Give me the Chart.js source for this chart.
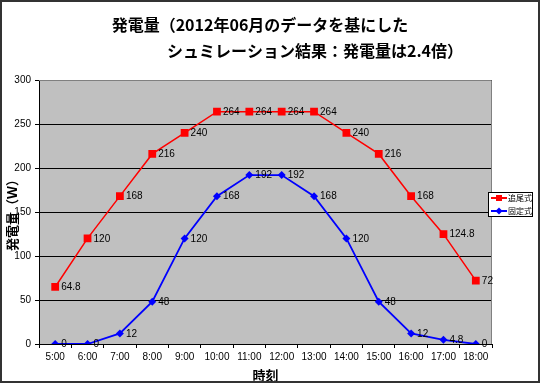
<!DOCTYPE html>
<html><head><meta charset="utf-8">
<script src="https://cdn.jsdelivr.net/npm/chart.js@4/dist/chart.umd.min.js"></script>
<style>html,body{margin:0;padding:0;background:#fff}#w{width:540px;height:383px;position:relative}</style>
</head><body><div id="w"><canvas id="c"></canvas></div>
<script>
const categories = ['5:00','6:00','7:00','8:00','9:00','10:00','11:00','12:00','13:00','14:00','15:00','16:00','17:00','18:00'];
const trackingValues = [64.8,120,168,216,240,264,264,264,264,240,216,168,124.8,72];
const fixedValues = [0,0,12,48,120,168,192,192,168,120,48,12,4.8,0];
const seriesNames = ['追尾式','固定式'];
const yTickValues = [0,50,100,150,200,250,300];
const titleLines = ['発電量（2012年06月のデータを基にした','シュミレーション結果：発電量は2.4倍）'];
const xTitle = '時刻';
const yTitle = '発電量（Ｗ）';

const NARROW = "'Liberation Sans Narrow','Arial Narrow','Liberation Sans',sans-serif";
const JP = "'Noto Sans CJK JP',sans-serif";

const deco = {
  id: 'deco',
  beforeDraw(chart) {
    const {ctx, chartArea: a} = chart;
    ctx.save();
    ctx.fillStyle = '#fff';
    ctx.fillRect(0, 0, chart.width, chart.height);
    ctx.fillStyle = '#c0c0c0';
    ctx.fillRect(a.left, a.top, a.right - a.left, a.bottom - a.top);
    ctx.restore();
  },
  beforeDatasetsDraw(chart) {
    const {ctx, chartArea: a} = chart;
    ctx.save();
    ctx.strokeStyle = '#808080';
    ctx.lineWidth = 1;
    ctx.beginPath();
    ctx.moveTo(a.left, a.top + 0.5);
    ctx.lineTo(a.right - 0.5, a.top + 0.5);
    ctx.lineTo(a.right - 0.5, a.bottom);
    ctx.stroke();
    ctx.restore();
  },
  afterDatasetsDraw(chart) {
    const {ctx} = chart;
    ctx.save();
    ctx.font = '10px ' + NARROW;
    ctx.fillStyle = '#000';
    ctx.textAlign = 'left';
    ctx.textBaseline = 'middle';
    chart.data.datasets.forEach((ds, i) => {
      const meta = chart.getDatasetMeta(i);
      meta.data.forEach((pt, j) => {
        ctx.fillText(String(ds.data[j]), pt.x + 6, pt.y + 0.5);
      });
    });
    ctx.restore();
  },
  afterDraw(chart) {
    const {ctx} = chart;
    ctx.save();
    // title
    ctx.fillStyle = '#000';
    ctx.font = 'bold 16px ' + JP;
    ctx.textAlign = 'center';
    ctx.textBaseline = 'middle';
    ctx.fillText(titleLines[0], 260, 25);
    ctx.fillText(titleLines[1], 315, 51);
    // legend
    const lx = 488, ly = 192, lw = 44, lh = 24;
    ctx.fillStyle = '#fff';
    ctx.fillRect(lx, ly, lw, lh);
    ctx.strokeStyle = '#000';
    ctx.lineWidth = 1;
    ctx.strokeRect(lx + 0.5, ly + 0.5, lw, lh);
    chart.data.datasets.forEach((ds, i) => {
      const y = ly + 6 + i * 13;
      ctx.strokeStyle = ds.borderColor;
      ctx.lineWidth = 2;
      ctx.beginPath();
      ctx.moveTo(lx + 3, y);
      ctx.lineTo(lx + 19, y);
      ctx.stroke();
      ctx.fillStyle = ds.borderColor;
      if (i === 0) {
        ctx.fillRect(lx + 8, y - 3, 6, 6);
      } else {
        ctx.beginPath();
        ctx.moveTo(lx + 11, y - 3.5);
        ctx.lineTo(lx + 14.5, y);
        ctx.lineTo(lx + 11, y + 3.5);
        ctx.lineTo(lx + 7.5, y);
        ctx.closePath();
        ctx.fill();
      }
      ctx.fillStyle = '#000';
      ctx.font = '8px ' + JP;
      ctx.textAlign = 'left';
      ctx.fillText(ds.label, lx + 20, y);
    });
    // outer border
    ctx.strokeStyle = '#333';
    ctx.lineWidth = 2;
    ctx.strokeRect(1, 1, chart.width - 2, chart.height - 2);
    ctx.restore();
  }
};

new Chart(document.getElementById('c'), {
  type: 'line',
  data: {
    labels: categories,
    datasets: [
      {
        label: seriesNames[0], data: trackingValues,
        borderColor: '#ff0000', backgroundColor: '#ff0000',
        borderWidth: 1.5, pointStyle: 'rect', pointRadius: 5.5,
        pointBorderWidth: 0, pointBackgroundColor: '#ff0000', tension: 0
      },
      {
        label: seriesNames[1], data: fixedValues,
        borderColor: '#0000ff', backgroundColor: '#0000ff',
        borderWidth: 1.8, pointStyle: 'rectRot', pointRadius: 4,
        pointBorderWidth: 0, pointBackgroundColor: '#0000ff', tension: 0
      }
    ]
  },
  options: {
    responsive: true, maintainAspectRatio: false, animation: false,
    devicePixelRatio: 1,
    layout: {padding: {top: 80, right: 48, left: 0, bottom: 0}},
    plugins: {legend: {display: false}, title: {display: false}, tooltip: {enabled: false}},
    scales: {
      x: {
        offset: true,
        grid: {offset: true, drawOnChartArea: false, drawTicks: true, tickLength: 4, color: '#000'},
        border: {color: '#000', width: 1},
        ticks: {font: {family: NARROW, size: 10}, color: '#000', padding: 3, maxRotation: 0, autoSkip: false},
        title: {display: true, text: xTitle, font: {family: JP, size: 13, weight: 'bold'}, color: '#000', padding: {top: 0, bottom: 0}},
        afterFit(s) { s.height = 39; }
      },
      y: {
        min: 0, max: 300,
        afterBuildTicks(s) { s.ticks = yTickValues.map(v => ({value: v})); },
        grid: {color: '#000', tickLength: 4},
        border: {color: '#000', width: 1},
        ticks: {font: {family: NARROW, size: 10}, color: '#000', padding: 4},
        title: {display: true, text: yTitle, font: {family: JP, size: 13, weight: 'bold'}, color: '#000', padding: {top: 4, bottom: 0}},
        afterFit(s) { s.width = 39; }
      }
    }
  },
  plugins: [deco]
});
</script>
</body></html>
